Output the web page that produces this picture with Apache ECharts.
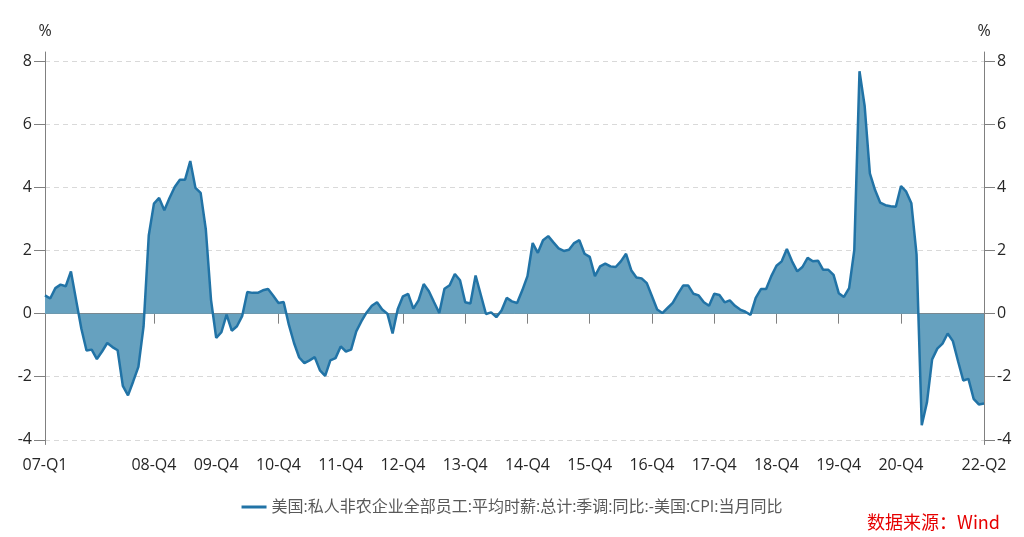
<!DOCTYPE html>
<html>
<head>
<meta charset="utf-8">
<script src="https://cdn.jsdelivr.net/npm/echarts@6/dist/echarts.min.js"></script>
<style>
html,body{margin:0;padding:0;background:#fff;}
#c{width:1024px;height:537px;}
</style>
</head>
<body>
<div id="c"></div>
<script>
// Monthly observations, 2007-03 .. 2022-04
const startYear = 2007, startMonth = 3, count = 182;
const seriesName = '美国:私人非农企业全部员工:平均时薪:总计:季调:同比:-美国:CPI:当月同比';
const values = [
  0.58, 0.48, 0.81, 0.92, 0.87, 1.34, 0.43, -0.47, -1.17, -1.14,
  -1.44, -1.20, -0.93, -1.06, -1.16, -2.29, -2.59, -2.15, -1.69, -0.40,
  2.48, 3.49, 3.67, 3.28, 3.67, 4.02, 4.25, 4.25, 4.84, 3.99,
  3.83, 2.67, 0.44, -0.77, -0.59, -0.03, -0.54, -0.40, -0.08, 0.69,
  0.66, 0.66, 0.74, 0.78, 0.57, 0.34, 0.37, -0.35, -0.93, -1.39,
  -1.57, -1.48, -1.38, -1.80, -1.97, -1.48, -1.41, -1.04, -1.20, -1.14,
  -0.56, -0.24, 0.04, 0.25, 0.36, 0.13, 0.00, -0.63, 0.15, 0.55,
  0.63, 0.16, 0.42, 0.94, 0.71, 0.36, 0.02, 0.79, 0.90, 1.26,
  1.06, 0.36, 0.32, 1.21, 0.60, -0.01, 0.04, -0.11, 0.10, 0.50,
  0.39, 0.34, 0.74, 1.19, 2.24, 1.93, 2.33, 2.46, 2.26, 2.07,
  1.99, 2.03, 2.24, 2.33, 1.90, 1.80, 1.19, 1.50, 1.59, 1.50,
  1.48, 1.66, 1.90, 1.38, 1.15, 1.12, 0.97, 0.55, 0.13, 0.02,
  0.18, 0.34, 0.63, 0.89, 0.89, 0.63, 0.58, 0.36, 0.25, 0.63,
  0.59, 0.36, 0.42, 0.25, 0.13, 0.06, -0.04, 0.50, 0.78, 0.78,
  1.19, 1.52, 1.66, 2.05, 1.66, 1.34, 1.48, 1.77, 1.66, 1.68,
  1.39, 1.39, 1.23, 0.65, 0.53, 0.81, 2.02, 7.69, 6.58, 4.45,
  3.92, 3.52, 3.44, 3.41, 3.39, 4.05, 3.87, 3.50, 1.87, -3.54,
  -2.82, -1.45, -1.11, -0.95, -0.63, -0.87, -1.51, -2.12, -2.07, -2.70,
  -2.88, -2.85
];
const yTickValues = [-4, -2, 0, 2, 4, 6, 8];
const shownLabels = ['07-Q1','08-Q4','09-Q4','10-Q4','11-Q4','12-Q4','13-Q4','14-Q4','15-Q4','16-Q4','17-Q4','18-Q4','19-Q4','20-Q4','22-Q2'];

// build category strings (yy-Qq) for each month
const categories = [];
for (let k = 0; k < count; k++) {
  const m0 = startMonth - 1 + k;
  const y = startYear + Math.floor(m0 / 12);
  const m = (m0 % 12) + 1;
  categories.push(String(y % 100).padStart(2, '0') + '-Q' + Math.ceil(m / 3));
}
const lastIdx = count - 1;
function isDec(i) { return ((startMonth - 1 + i) % 12) === 11; }
const tickSet = new Set([0, lastIdx]);
categories.forEach((c, i) => { if (isDec(i)) tickSet.add(i); });
const labelSet = new Set();
categories.forEach((c, i) => {
  if (!tickSet.has(i)) return;
  if (i === 0 || i === lastIdx) { labelSet.add(i); return; }
  if (shownLabels.indexOf(c) >= 0) labelSet.add(i);
});
const font = '"Open Sans", "Noto Sans CJK SC", sans-serif';
const axisGray = '#808080';
const textColor = '#262626';

const chart = echarts.init(document.getElementById('c'), null, {renderer: 'canvas'});
const yAxisCommon = {
  type: 'value', min: -4.15, max: 8.3,
  nameLocation: 'end', name: '%', nameGap: 13,
  nameTextStyle: {fontSize: 16, color: textColor, fontFamily: font, align: 'center'},
  axisLine: {show: true, lineStyle: {color: axisGray, width: 1}},
  axisTick: {show: true, length: 11, customValues: yTickValues, lineStyle: {color: axisGray}},
  axisLabel: {customValues: yTickValues, fontSize: 16, color: textColor, fontFamily: font, margin: 13},
};
chart.setOption({
  animation: false,
  backgroundColor: '#fff',
  grid: {left: 45, right: 40, top: 52, bottom: 92.5, containLabel: false},
  legend: {
    data: [{name: seriesName, icon: 'rect'}],
    left: 'center', top: 494,
    itemWidth: 25, itemHeight: 3, itemGap: 10,
    textStyle: {fontSize: 16, color: '#595959', fontFamily: font}
  },
  xAxis: {
    type: 'category', data: categories, boundaryGap: false,
    axisLine: {lineStyle: {color: axisGray, width: 1}},
    axisTick: {show: true, length: 10, interval: (i) => tickSet.has(i), lineStyle: {color: axisGray}},
    axisLabel: {interval: (i) => labelSet.has(i), fontSize: 16, color: textColor, fontFamily: font, margin: 13},
    splitLine: {show: false}
  },
  yAxis: [
    Object.assign({}, yAxisCommon, {
      position: 'left',
      splitLine: {show: true, lineStyle: {color: '#d9d9d9', type: [5, 4], width: 1}}
    }),
    Object.assign({}, yAxisCommon, {
      position: 'right',
      splitLine: {show: false}
    })
  ],
  series: [{
    name: seriesName, type: 'line', data: values,
    yAxisIndex: 0,
    symbol: 'none', smooth: false,
    lineStyle: {color: '#2173a6', width: 2.5},
    itemStyle: {color: '#2173a6'},
    areaStyle: {color: '#66a1bf', opacity: 1}
  }],
  graphic: [{
    type: 'text', right: 24, top: 513,
    style: {text: '数据来源：Wind', fill: '#e60000', fontSize: 18, fontFamily: '"Noto Sans CJK SC", sans-serif'}
  }]
});
</script>
</body>
</html>
